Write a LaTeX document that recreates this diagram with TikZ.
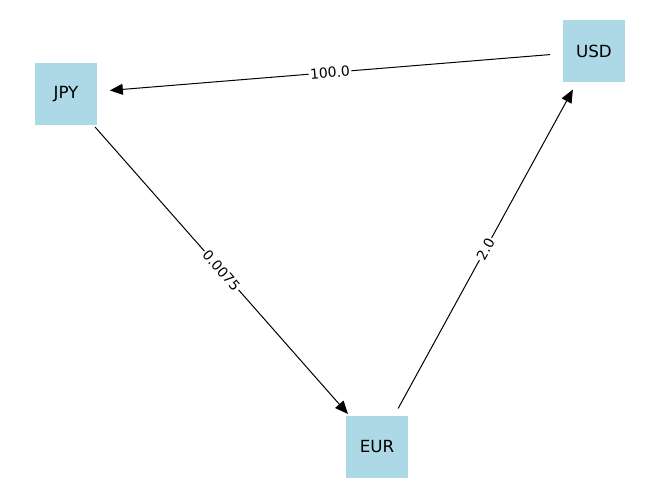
\documentclass[tikz,border=0pt]{standalone}
\usepackage{fontspec}
\setmainfont{DejaVu Sans}
\usetikzlibrary{arrows.meta}
\definecolor{nodeblue}{RGB}{173,216,230}
\begin{document}
\begin{tikzpicture}[x=1pt,y=-1pt,
  currency/.style={rectangle, fill=nodeblue, minimum size=62pt, inner sep=0pt,
    font=\fontsize{16.7}{20}\selectfont},
  rate/.style={draw=black, line width=1pt, shorten <=44pt, shorten >=44pt,
    -{Triangle[length=13pt,width=11pt]}},
  ratelabel/.style={midway, sloped, fill=white, inner sep=1.5pt,
    font=\fontsize{13.9}{16}\selectfont}]
  \fill[white] (0,0) rectangle (660,499);
  \useasboundingbox (0,0) rectangle (660,499);

  \node[currency] (jpy) at (66,94) {JPY};
  \node[currency] (usd) at (594,51) {USD};
  \node[currency] (eur) at (377,447) {EUR};

  \draw[rate] (usd.center) -- (jpy.center) node[ratelabel] {100.0};
  \draw[rate] (jpy.center) -- (eur.center) node[ratelabel] {0.0075};
  \draw[rate] (eur.center) -- (usd.center) node[ratelabel] {2.0};
\end{tikzpicture}
\end{document}
